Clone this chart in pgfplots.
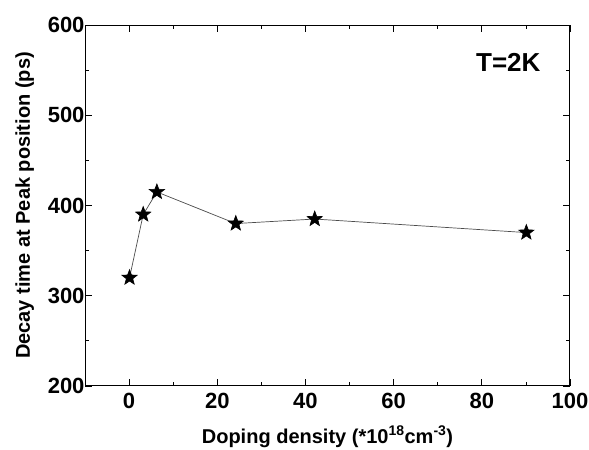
\documentclass[border=0pt]{standalone}
\usepackage{pgfplots}
\pgfplotsset{compat=1.18}
\usepackage{fontspec}
\setmainfont{Liberation Sans}
% filled five-pointed star
\pgfdeclareplotmark{fstar}{%
  \pgfpathmoveto{\pgfpointpolar{90}{\pgfplotmarksize}}%
  \pgfpathlineto{\pgfpointpolar{126}{0.42\pgfplotmarksize}}%
  \pgfpathlineto{\pgfpointpolar{162}{\pgfplotmarksize}}%
  \pgfpathlineto{\pgfpointpolar{198}{0.42\pgfplotmarksize}}%
  \pgfpathlineto{\pgfpointpolar{234}{\pgfplotmarksize}}%
  \pgfpathlineto{\pgfpointpolar{270}{0.42\pgfplotmarksize}}%
  \pgfpathlineto{\pgfpointpolar{306}{\pgfplotmarksize}}%
  \pgfpathlineto{\pgfpointpolar{342}{0.42\pgfplotmarksize}}%
  \pgfpathlineto{\pgfpointpolar{18}{\pgfplotmarksize}}%
  \pgfpathlineto{\pgfpointpolar{54}{0.42\pgfplotmarksize}}%
  \pgfpathclose
  \pgfusepathqfillstroke}
\begin{document}
\begin{tikzpicture}
\begin{axis}[
scale only axis,
width=485pt,
height=361pt,
clip=false,
xmin=-10, xmax=100,
ymin=200, ymax=600,
xtick={0,20,40,60,80,100},
ytick={200,300,400,500,600},
minor x tick num=1,
minor y tick num=1,
tick align=inside,
major tick length=7pt,
minor tick length=4pt,
axis line style={line width=1pt},
every tick/.style={black, line width=0.8pt},
/pgf/number format/assume math mode=true,
tick label style={font=\fontsize{22}{26}\selectfont\bfseries},
yticklabel style={xshift=3pt},
xticklabel style={yshift=-4pt},
label style={font=\fontsize{20}{24}\selectfont\bfseries},
xlabel={Doping density (*10\textsuperscript{18}cm\textsuperscript{-3})},
ylabel={Decay time at Peak position (ps)},
xlabel style={yshift=-10pt},
ylabel style={yshift=7pt},
]
\addplot[black!70, line width=0.7pt, mark=fstar, mark size=8pt,
  mark options={black, line width=0.6pt, fill=black}] coordinates {
(0.1,320) (3.2,390) (6.3,415) (24.2,380) (42.1,385) (90.1,370)};
\node[font=\fontsize{26}{30}\selectfont\bfseries] at (axis cs:86,559) {T=2K};
\coordinate (bl) at (rel axis cs:-0.1753,-0.1773);
\coordinate (tr) at (rel axis cs:1.0392,1.0693);
\end{axis}
\pgfresetboundingbox
\path (bl) rectangle (tr);
\end{tikzpicture}
\end{document}
